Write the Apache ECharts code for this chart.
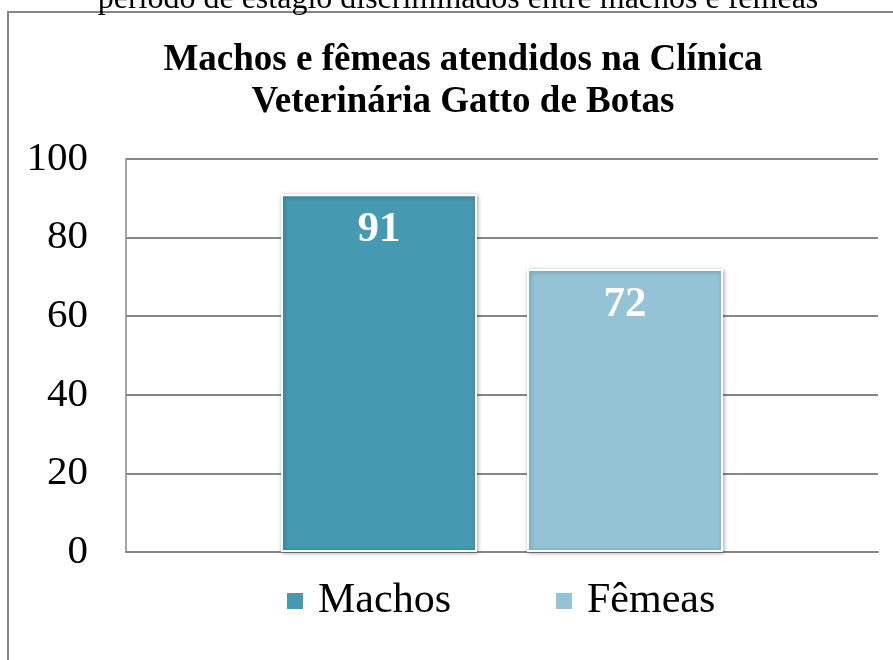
<!DOCTYPE html>
<html>
<head>
<meta charset="utf-8">
<script src="https://cdn.jsdelivr.net/npm/echarts@6/dist/echarts.min.js"></script>
<style>
  html, body { margin: 0; padding: 0; background: #fff; }
  #chart { width: 893px; height: 660px; }
</style>
</head>
<body>
<div id="chart"></div>
<script>
// dados do gráfico
const categories = [""];
const seriesNames = ["Machos", "Fêmeas"];
const seriesValues = [[91], [72]];
const seriesColors = ["#4599B0", "#93C3D4"];
const yTicks = [0, 20, 40, 60, 80, 100];

const serif = "'Liberation Serif', 'Times New Roman', serif";

const series = seriesNames.map((name, i) => ({
  name: name,
  type: "bar",
  barWidth: 196,
  barGap: "25.5%",
  data: seriesValues[i],
  itemStyle: {
    color: seriesColors[i],
    borderColor: "#fff",
    borderWidth: 2,
    shadowBlur: 4,
    shadowColor: "rgba(0,0,0,0.3)",
    shadowOffsetX: 1,
    shadowOffsetY: 1,
  },
  label: {
    show: true,
    position: "insideTop",
    distance: 14,
    color: "#fff",
    fontFamily: serif,
    fontWeight: "bold",
    fontSize: 43,
  },
}));

const option = {
  backgroundColor: "#fff",
  animation: false,
  title: {
    text: "Machos e fêmeas atendidos na Clínica\nVeterinária Gatto de Botas",
    left: 458,
    textAlign: "center",
    top: 34,
    textStyle: {
      fontFamily: serif,
      fontWeight: "bold",
      fontSize: 37,
      lineHeight: 42,
      color: "#000",
    },
  },
  legend: {
    data: seriesNames,
    top: 580,
    left: 287,
    padding: 0,
    itemWidth: 16,
    itemHeight: 16,
    itemGap: 105,
    icon: "rect",
    itemStyle: { borderWidth: 0, shadowBlur: 0 },
    textStyle: { fontFamily: serif, fontSize: 42, color: "#000", padding: [0, 0, 0, 10] },
  },
  grid: { left: 126, right: 15, top: 159, bottom: 108 },
  xAxis: {
    type: "category",
    data: categories,
    axisTick: { show: false },
    axisLabel: { show: false },
    axisLine: { show: true, lineStyle: { color: "#868686", width: 2 } },
  },
  yAxis: {
    type: "value",
    min: yTicks[0],
    max: yTicks[yTicks.length - 1],
    interval: 20,
    axisLine: { show: true, lineStyle: { color: "#868686", width: 1.5 } },
    axisTick: { show: false },
    axisLabel: {
      margin: 38,
      fontFamily: serif,
      fontSize: 41,
      color: "#000",
    },
    splitLine: { show: true, lineStyle: { color: "#868686", width: 2 } },
  },
  graphic: [
    {
      type: "rect",
      shape: { x: 8, y: 12, width: 900, height: 680 },
      style: { fill: "none", stroke: "#868686", lineWidth: 2 },
      z: -1,
    },
    {
      type: "text",
      x: 458,
      y: 16,
      style: {
        text: "período de estágio discriminados entre machos e fêmeas",
        fontFamily: serif,
        fontSize: 32,
        fill: "#000",
        align: "center",
        verticalAlign: "bottom",
      },
    },
  ],
  series: series,
};

const chart = echarts.init(document.getElementById("chart"));
chart.setOption(option);
</script>
</body>
</html>
